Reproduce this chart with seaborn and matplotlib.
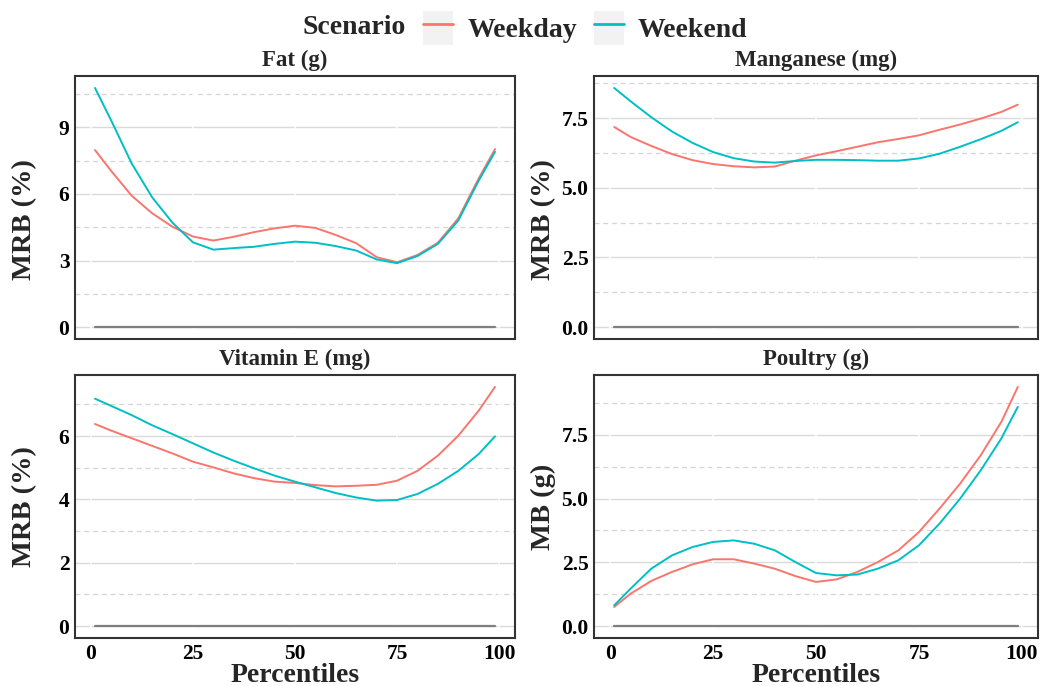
import numpy as np
import pandas as pd
import matplotlib
matplotlib.use("Agg")
import matplotlib.pyplot as plt
import seaborn as sns
from matplotlib.patches import Rectangle
from matplotlib.lines import Line2D
from matplotlib.ticker import MultipleLocator, FormatStrFormatter

percentiles = [1, 5, 10, 15, 20, 25, 30, 35, 40, 45, 50, 55, 60, 65, 70, 75, 80, 85, 90, 95, 99]

fat_weekday = [7.98, 7.03, 5.92, 5.13, 4.52, 4.08, 3.90, 4.07, 4.28, 4.45, 4.57, 4.47, 4.15, 3.78, 3.15, 2.92, 3.25, 3.80, 4.90, 6.70, 8.02]
fat_weekend = [10.78, 9.30, 7.37, 5.85, 4.70, 3.82, 3.49, 3.56, 3.62, 3.75, 3.85, 3.80, 3.65, 3.45, 3.05, 2.88, 3.20, 3.75, 4.80, 6.60, 7.90]

mn_weekday = [7.18, 6.82, 6.50, 6.21, 5.99, 5.85, 5.77, 5.73, 5.76, 5.97, 6.16, 6.31, 6.47, 6.63, 6.75, 6.88, 7.08, 7.27, 7.48, 7.72, 7.98]
mn_weekend = [8.58, 8.10, 7.53, 7.02, 6.61, 6.28, 6.06, 5.94, 5.90, 5.96, 6.00, 6.00, 5.99, 5.97, 5.97, 6.05, 6.22, 6.47, 6.74, 7.04, 7.35]

vite_weekday = [6.38, 6.17, 5.93, 5.69, 5.45, 5.19, 5.01, 4.82, 4.67, 4.56, 4.52, 4.45, 4.41, 4.43, 4.46, 4.59, 4.90, 5.38, 6.01, 6.80, 7.55]
vite_weekend = [7.18, 6.95, 6.66, 6.34, 6.06, 5.77, 5.48, 5.22, 4.98, 4.75, 4.56, 4.38, 4.20, 4.06, 3.96, 3.98, 4.17, 4.49, 4.90, 5.43, 5.99]

poultry_weekday = [0.75, 1.27, 1.77, 2.12, 2.42, 2.62, 2.62, 2.45, 2.25, 1.96, 1.73, 1.83, 2.12, 2.51, 2.97, 3.69, 4.61, 5.59, 6.70, 8.01, 9.38]
poultry_weekend = [0.81, 1.47, 2.25, 2.77, 3.10, 3.30, 3.36, 3.23, 2.97, 2.51, 2.08, 1.99, 2.02, 2.25, 2.58, 3.17, 4.02, 5.00, 6.11, 7.36, 8.60]

panel_titles = ["Fat (g)", "Manganese (mg)", "Vitamin E (mg)", "Poultry (g)"]
y_labels = ["MRB (%)", "MRB (%)", "MRB (%)", "MB (g)"]
scenarios = ["Weekday", "Weekend"]
x_ticks = [0, 25, 50, 75, 100]
y_major = [3, 2.5, 2, 2.5]
y_fmt = ["%d", "%.1f", "%d", "%.1f"]

series = [(fat_weekday, fat_weekend), (mn_weekday, mn_weekend),
          (vite_weekday, vite_weekend), (poultry_weekday, poultry_weekend)]

colors = {"Weekday": "#F8766D", "Weekend": "#00BFC4"}

sns.set_theme(style="white")
plt.rcParams["font.family"] = ["Liberation Serif", "DejaVu Serif"]
plt.rcParams["font.weight"] = "bold"
plt.rcParams["axes.labelweight"] = "bold"
plt.rcParams["axes.titleweight"] = "bold"

fig = plt.figure(figsize=(10.46, 6.86), dpi=100)
W, H = 1046, 686
boxes = [(75, 76, 515, 339), (594, 76, 1038, 339), (75, 375, 515, 638), (594, 375, 1038, 638)]
label_y = [0.455, 0.455, 0.5, 0.5]

for i, (b, (wd, we)) in enumerate(zip(boxes, series)):
    x0, y0, x1, y1 = b
    ax = fig.add_axes([x0 / W, 1 - y1 / H, (x1 - x0) / W, (y1 - y0) / H])
    df = pd.DataFrame({
        "Percentile": percentiles * 2,
        "Value": list(wd) + list(we),
        "Scenario": ["Weekday"] * len(percentiles) + ["Weekend"] * len(percentiles),
    })
    # zero reference
    ax.plot([percentiles[0], percentiles[-1]], [0, 0], color="#7F7F7F", lw=1.6, zorder=2)
    sns.lineplot(data=df, x="Percentile", y="Value", hue="Scenario", hue_order=scenarios,
                 palette=colors, ax=ax, legend=False, lw=1.4, zorder=3)
    ymax = max(max(wd), max(we))
    pad = 0.05 * ymax
    ax.set_ylim(-pad, ymax + pad)
    ax.set_xlim(-3.9, 103.9)
    ax.yaxis.set_major_locator(MultipleLocator(y_major[i]))
    ax.yaxis.set_minor_locator(MultipleLocator(y_major[i] / 2))
    ax.yaxis.set_major_formatter(FormatStrFormatter(y_fmt[i]))
    ax.set_xticks(x_ticks)
    ax.grid(True, which="major", axis="y", color="#DADADA", lw=1.0, ls="-")
    ax.grid(True, which="minor", axis="y", color="#D5D5D5", lw=0.9, ls=(0, (4, 3)))
    ax.set_axisbelow(True)
    for xv in x_ticks:
        ax.axvline(xv, color="white", lw=1.2, zorder=0.8)
    for s in ax.spines.values():
        s.set_color("#333333")
        s.set_linewidth(1.5)
    ax.tick_params(axis="y", which="both", length=0, labelsize=15.5, pad=4, labelcolor="black")
    ax.tick_params(axis="x", which="major", direction="in", length=4, color="#AAAAAA",
                   labelsize=15.5, pad=4, labelcolor="black")
    ax.tick_params(axis="x", which="minor", length=0)
    for lab in ax.get_xticklabels() + ax.get_yticklabels():
        lab.set_fontweight("bold")
    ax.set_ylabel(y_labels[i], fontsize=20.5, fontweight="bold")
    ax.yaxis.set_label_coords(-0.085, label_y[i])
    ax.set_title(panel_titles[i], fontsize=16.5, fontweight="bold", pad=7)
    if i < 2:
        ax.set_xlabel("")
        ax.tick_params(axis="x", labelbottom=False)
    else:
        ax.set_xlabel("Percentiles", fontsize=20, fontweight="bold")
        ax.xaxis.label.set_va("baseline")
        ax.xaxis.set_label_coords(0.5, -(682 - 638) / 263)

# legend
fig.text(302 / W, 1 - 27 / H, "Scenario", fontsize=20, fontweight="bold", ha="left", va="center")
handles = []
for s in scenarios:
    box = Rectangle((0, 0), 1, 1, facecolor="#F2F2F2", edgecolor="none")
    ln = Line2D([0], [0], color=colors[s], lw=2)
    handles.append((box, ln))
leg = fig.legend(handles, scenarios, loc="center left", bbox_to_anchor=(420 / W, 1 - 28 / H), ncol=2,
                 frameon=False, fontsize=20, handlelength=1.1, handleheight=1.5,
                 handletextpad=0.5, columnspacing=0.6, borderpad=0.1, borderaxespad=0)
for t in leg.get_texts():
    t.set_fontweight("bold")

fig.savefig("out.png", dpi=100)
